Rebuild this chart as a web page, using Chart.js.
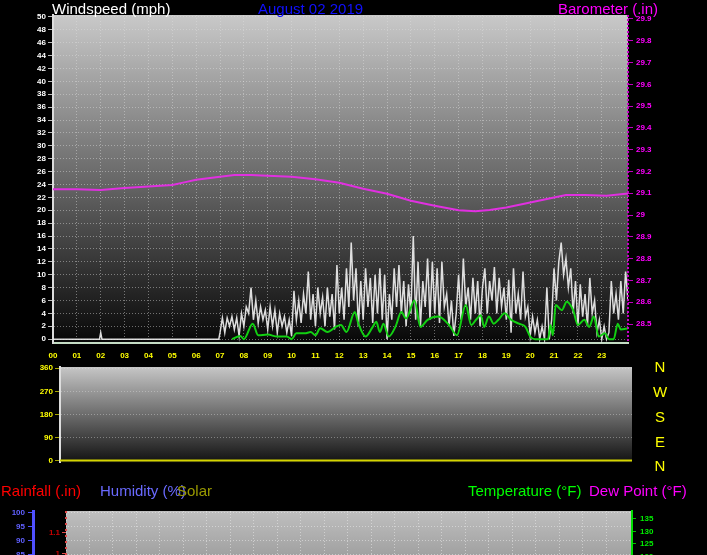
<!DOCTYPE html>
<html>
<head>
<meta charset="utf-8">
<script src="https://cdn.jsdelivr.net/npm/chart.js@4/dist/chart.umd.min.js"></script>
<style>
  html, body { margin: 0; padding: 0; background: #000; width: 707px; height: 555px; overflow: hidden; }
  canvas { position: absolute; left: 0; }
  .lbl { position: absolute; font-family: "Liberation Sans", Arial, sans-serif; font-size: 15px; line-height: 15px; white-space: nowrap; }
  .rose { position: absolute; left: 650px; width: 20px; text-align: center; color: #ffff00; font-family: "Liberation Sans", Arial, sans-serif; font-size: 15px; line-height: 15px; }
</style>
</head>
<body>
<canvas id="chartVent" width="707" height="365" style="top:0"></canvas>
<canvas id="chartDirection" width="707" height="109" style="top:360px"></canvas>
<canvas id="chartTemp" width="707" height="90" style="top:495px"></canvas>

<div class="lbl" style="left:52px;top:1px;color:#ffffff">Windspeed (mph)</div>
<div class="lbl" style="left:258px;top:1px;color:#1010ff">August 02 2019</div>
<div class="lbl" style="left:558px;top:1px;color:#ff00ff">Barometer (.in)</div>

<div class="rose" style="top:359px">N</div>
<div class="rose" style="top:384px">W</div>
<div class="rose" style="top:409px">S</div>
<div class="rose" style="top:434px">E</div>
<div class="rose" style="top:458px">N</div>

<div class="lbl" style="left:1px;top:483px;color:#ff0000">Rainfall (.in)</div>
<div class="lbl" style="left:100px;top:483px;color:#6a6aff">Humidity (%)</div>
<div class="lbl" style="left:177px;top:483px;color:#9a9a00">Solar</div>
<div class="lbl" style="left:468px;top:483px;color:#00ff00">Temperature (°F)</div>
<div class="lbl" style="left:589px;top:483px;color:#ff00ff">Dew Point (°F)</div>

<script>
// axes
const heures = [0, 1, 2, 3, 4, 5, 6, 7, 8, 9, 10, 11, 12, 13, 14, 15, 16, 17, 18, 19, 20, 21, 22, 23];
const vitesseTicks = [0, 2, 4, 6, 8, 10, 12, 14, 16, 18, 20, 22, 24, 26, 28, 30, 32, 34, 36, 38, 40, 42, 44, 46, 48, 50];
const baroTicks = [28.5, 28.6, 28.7, 28.8, 28.9, 29, 29.1, 29.2, 29.3, 29.4, 29.5, 29.6, 29.7, 29.8, 29.9];
const directionTicks = [0, 90, 180, 270, 360];
const humiditeTicks = [85, 90, 95, 100];
const pluieTicks = [1, 1.1];
const tempTicks = [120, 125, 130, 135];

// barometre (.in)
const baroHeures = [0, 1, 2, 3, 4, 5, 5.5, 6, 7, 7.6, 8.3, 9, 10, 11, 12, 13, 14, 15, 16, 17, 17.7, 18.3, 19, 20, 21, 21.5, 22.3, 23.2, 24.1];
const baroValeurs = [29.119, 29.118, 29.115, 29.124, 29.131, 29.138, 29.150, 29.162, 29.176, 29.184, 29.184, 29.180, 29.176, 29.164, 29.148, 29.121, 29.098, 29.066, 29.043, 29.022, 29.017, 29.023, 29.035, 29.058, 29.081, 29.092, 29.092, 29.089, 29.099];

// rafales (mph) : nuit calme puis un releve toutes les 6 minutes a partir de 07:00
const rafalesHeuresNuit = [0, 1.95, 2, 2.05, 6.95];
const rafalesNuit = [0, 0, 1, 0, 0];
const rafalesDebut = 7;
const rafalesPas = 0.1;
const rafales = [
  1, 3.3, 1, 3.3, 2, 3.5, 1.5, 3.3, 0.5, 4,
  2, 5, 4, 8, 3, 6, 2.5, 5, 3, 4.5,
  1.5, 5, 2, 4.5, 1, 4, 2, 3.5, 1, 3,
  0.5, 7.5, 3, 6, 2.5, 7, 4, 10.5, 3, 7,
  2, 8, 4, 6.5, 2, 8, 3.5, 7, 1.5, 11.5,
  4, 8, 3, 11, 5, 15, 6, 11, 2, 9,
  3, 11, 5, 9.5, 2.5, 10, 4, 11, 3, 10,
  0, 7, 3, 11, 5, 11.5, 4, 9, 2, 8.5,
  4, 16, 3, 12, 2, 9, 5, 12.5, 3, 12,
  4, 11, 2.5, 12, 5, 7, 2, 6, 0.5, 4,
  10, 3, 12.5, 5, 8, 3, 9.5, 4, 9, 2,
  8, 11, 4, 9, 6, 11.2, 4, 9.5, 5, 8,
  3, 9.2, 1, 11, 4, 7, 3, 10.5, 3.5, 5,
  0.5, 3.5, 1, 3, 0, 2, 0, 8, 0, 3,
  11, 6, 12, 15, 10, 12.5, 8, 11, 4, 9,
  2, 8.5, 3.5, 7, 2, 9.5, 4, 6, 1, 3,
  0, 2, 0, 1, 9, 4, 7, 3, 9, 4,
  10.5, 6
];

// vitesse moyenne (mph)
const moyenneHeures = [7.5, 7.85, 8.0, 8.37, 8.6, 9.0, 9.4, 9.8, 10.0, 10.2, 10.55, 10.8, 11.0, 11.2, 11.5, 11.85, 12.07, 12.3, 12.65, 12.8, 13.1, 13.4, 13.55, 13.7, 13.85, 14.07, 14.35, 14.6, 14.8, 15.15, 15.4, 15.7, 16.15, 16.6, 16.93, 17.3, 17.53, 17.73, 17.93, 18.07, 18.27, 18.47, 18.67, 18.93, 19.2, 19.53, 19.8, 20.0, 20.2, 20.75, 20.85, 20.95, 21.07, 21.33, 21.53, 21.8, 22.0, 22.27, 22.47, 22.67, 22.87, 23.13, 23.3, 23.5, 23.67, 23.8, 24.1];
const moyenneValeurs = [0, 0.5, 0, 2.4, 0.6, 0.7, 0.4, 0.4, 0, 0.9, 0.9, 1.1, 0.6, 1.7, 1.1, 1.9, 2.2, 1.1, 4.2, 2.4, 0.4, 1.9, 2.7, 1.1, 2.4, 0.4, 1.9, 4.2, 3.2, 6, 1.9, 3, 3.5, 2.2, 0.6, 5.3, 2.2, 3, 3.7, 1.9, 3.5, 2.4, 3, 4, 3, 2.4, 1.9, 0.4, 0, 0, 2.2, 0.6, 5.3, 4.5, 5.8, 4.5, 2.2, 3, 1.9, 3.5, 0.4, 0.9, 0, 0, 2.4, 1.5, 1.7];

// direction du vent (degres)
const directionHeures = [0, 24.1];
const directionValeurs = [0, 0];

Chart.defaults.font.family = '"Liberation Sans", Arial, sans-serif';
const petitePolice = { size: 8, weight: 'bold' };

const fondDegrade = {
  id: 'fondDegrade',
  beforeDraw(chart, args, opts) {
    const { ctx, chartArea: a } = chart;
    const g = ctx.createLinearGradient(0, a.top, 0, a.bottom);
    g.addColorStop(0, opts.haut);
    g.addColorStop(1, opts.bas);
    ctx.save();
    ctx.fillStyle = g;
    ctx.fillRect(a.left, a.top, a.width, a.height);
    ctx.restore();
  }
};

const bordPointille = {
  id: 'bordPointille',
  afterDraw(chart, args, opts) {
    const { ctx, chartArea: a } = chart;
    (opts.axes || []).forEach(axe => {
      const s = chart.scales[axe.id];
      const x = s.position === 'left' ? s.right : s.left;
      ctx.save();
      ctx.strokeStyle = axe.couleur;
      ctx.lineWidth = axe.largeur;
      ctx.setLineDash(axe.tirets);
      ctx.beginPath();
      ctx.moveTo(x, a.top);
      ctx.lineTo(x, a.bottom);
      ctx.stroke();
      ctx.restore();
    });
  }
};

function points(xs, ys) {
  return xs.map((x, i) => ({ x: x, y: ys[i] }));
}

const rafalesPoints = points(rafalesHeuresNuit, rafalesNuit)
  .concat(rafales.map((v, i) => ({ x: rafalesDebut + i * rafalesPas, y: v })));

// graphique vent + barometre
new Chart(document.getElementById('chartVent'), {
  type: 'line',
  data: {
    datasets: [
      { data: points(moyenneHeures, moyenneValeurs), borderColor: '#12d012', borderWidth: 2, pointRadius: 0, cubicInterpolationMode: 'monotone', yAxisID: 'y' },
      { data: rafalesPoints, borderColor: 'rgba(238,238,238,0.92)', borderWidth: 1.5, pointRadius: 0, yAxisID: 'y' },
      { data: points(baroHeures, baroValeurs), borderColor: '#e030e0', borderWidth: 2, pointRadius: 0, yAxisID: 'baro' }
    ]
  },
  options: {
    responsive: false,
    animation: false,
    layout: { padding: { top: 15, left: 0, right: 0, bottom: 0 } },
    plugins: {
      legend: { display: false },
      tooltip: { enabled: false },
      fondDegrade: { haut: '#c9c9c9', bas: '#070707' },
      bordPointille: { axes: [{ id: 'baro', couleur: '#c800c8', largeur: 2, tirets: [2, 2] }] }
    },
    scales: {
      x: {
        type: 'linear', min: 0, max: 24.1,
        afterBuildTicks: s => { s.ticks = heures.map(h => ({ value: h })); },
        afterFit: s => { s.height = 22; },
        ticks: { color: '#ffff00', font: petitePolice, padding: 8, maxRotation: 0, autoSkip: false,
                 callback: v => String(v).padStart(2, '0') },
        grid: { color: 'rgba(225,225,225,0.45)', drawTicks: false },
        border: { color: '#c4dcc4', width: 2, dash: [1, 2] }
      },
      y: {
        position: 'left', min: -0.6, max: 50.3,
        afterBuildTicks: s => { s.ticks = vitesseTicks.map(v => ({ value: v })); },
        afterFit: s => { s.width = 53; },
        ticks: { color: '#ffffff', font: petitePolice, padding: 2, autoSkip: false, callback: v => String(v) },
        grid: { color: 'rgba(225,225,225,0.45)', tickColor: '#bbbbbb', tickLength: 5 },
        border: { color: '#dddddd', width: 2, dash: [1, 2] }
      },
      baro: {
        position: 'right', min: 28.413, max: 29.918,
        afterBuildTicks: s => { s.ticks = baroTicks.map(v => ({ value: v })); },
        afterFit: s => { s.width = 79; },
        ticks: { color: '#ff00ff', font: petitePolice, padding: 3, autoSkip: false, callback: v => String(+v.toFixed(1)) },
        grid: { drawOnChartArea: false, tickColor: '#c000c0', tickLength: 5 },
        border: { display: false }
      }
    }
  },
  plugins: [fondDegrade, bordPointille]
});

// graphique direction
new Chart(document.getElementById('chartDirection'), {
  type: 'line',
  data: {
    datasets: [
      { data: points(directionHeures, directionValeurs), borderColor: '#d4d400', borderWidth: 2, pointRadius: 0 }
    ]
  },
  options: {
    responsive: false,
    animation: false,
    layout: { padding: { top: 7, left: 0, right: 75, bottom: 0 } },
    plugins: {
      legend: { display: false },
      tooltip: { enabled: false },
      fondDegrade: { haut: '#c6c6c6', bas: '#121212' }
    },
    scales: {
      x: { type: 'linear', min: 0, max: 24.1, display: false },
      y: {
        position: 'left', min: -7, max: 365,
        afterBuildTicks: s => { s.ticks = directionTicks.map(v => ({ value: v })); },
        afterFit: s => { s.width = 60; },
        ticks: { color: '#ffff00', font: petitePolice, padding: 2, autoSkip: false, callback: v => String(v) },
        grid: { color: 'rgba(225,225,225,0.4)', tickColor: '#a8a800', tickLength: 5 },
        border: { color: '#dddddd', width: 2, dash: [1, 2] }
      }
    }
  },
  plugins: [fondDegrade]
});

// graphique pluie / humidite / temperature (seul le haut est visible)
new Chart(document.getElementById('chartTemp'), {
  type: 'line',
  data: { datasets: [] },
  options: {
    responsive: false,
    animation: false,
    layout: { padding: { top: 16, left: 0, right: 0, bottom: 0 } },
    plugins: {
      legend: { display: false },
      tooltip: { enabled: false },
      fondDegrade: { haut: '#bfbfbf', bas: '#9a9a9a' },
      bordPointille: { axes: [{ id: 'pluie', couleur: '#e04848', largeur: 2, tirets: [2, 4] }] }
    },
    scales: {
      x: {
        type: 'linear', min: 0, max: 24.1,
        afterBuildTicks: s => { s.ticks = heures.map(h => ({ value: h })); },
        afterFit: s => { s.height = 20; },
        ticks: { display: false },
        grid: { color: 'rgba(235,235,235,0.55)', drawTicks: false },
        border: { display: false, dash: [1, 2] }
      },
      hum: {
        position: 'left', weight: 1, min: 81.45, max: 100.6,
        afterBuildTicks: s => { s.ticks = humiditeTicks.map(v => ({ value: v })); },
        afterFit: s => { s.width = 33; },
        ticks: { color: '#6060ff', font: petitePolice, padding: 3, autoSkip: false, callback: v => String(v) },
        grid: { color: 'rgba(235,235,235,0.55)', tickColor: '#5050ff', tickLength: 5 },
        border: { color: '#5050ff', width: 3, dash: [1, 2] }
      },
      pluie: {
        position: 'left', weight: 0, min: 0.947, max: 1.205,
        afterBuildTicks: s => { s.ticks = pluieTicks.map(v => ({ value: v })); },
        afterFit: s => { s.width = 33; },
        ticks: { color: '#c80000', font: petitePolice, padding: 2, autoSkip: false, callback: v => String(+v.toFixed(1)) },
        grid: { drawOnChartArea: false, tickColor: '#e04848', tickLength: 4 },
        border: { display: false }
      },
      temp: {
        position: 'right', min: 116.6, max: 138.2,
        afterBuildTicks: s => { s.ticks = tempTicks.map(v => ({ value: v })); },
        afterFit: s => { s.width = 75; },
        ticks: { color: '#00ee00', font: petitePolice, padding: 4, autoSkip: false, callback: v => String(v) },
        grid: { drawOnChartArea: false, tickColor: '#00c000', tickLength: 4 },
        border: { color: '#00dd00', width: 2 }
      }
    }
  },
  plugins: [fondDegrade, bordPointille]
});
</script>
</body>
</html>
